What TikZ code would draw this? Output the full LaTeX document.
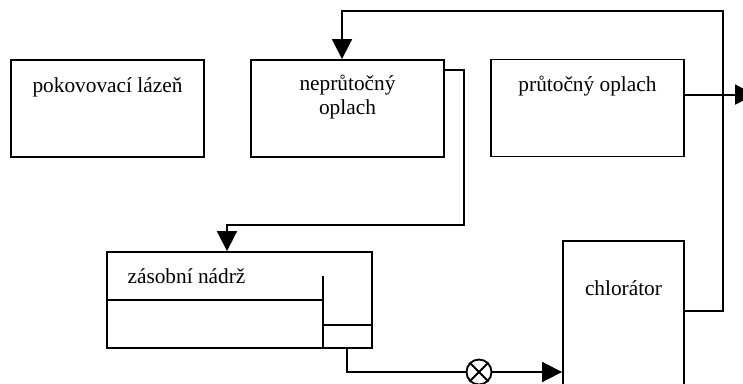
\documentclass[tikz,border=0pt]{standalone}
\usepackage{fontspec}
\setmainfont{Liberation Serif}
\usetikzlibrary{arrows.meta,calc}
\begin{document}
\begin{tikzpicture}[x=0.75pt,y=-0.75pt,line width=1.4pt,
    font=\fontsize{16}{17.5}\selectfont,
    box/.style={draw,minimum width=144.75pt,minimum height=72.75pt},
    flow/.style={-{Triangle[length=15pt,width=15pt]}}]
    \useasboundingbox (0,0) rectangle (743,383);
    \clip (0,0) rectangle (743,383);
    \node[box] (lazen) at (107.5,108.5) {};
    \node[box] (neprut) at (347.5,108.5) {};
    \node[box] (prut) at (587.5,108) {};
    \node[draw,minimum width=198.75pt,minimum height=72pt] (nadrz) at (239.5,300) {};
    \node[draw,minimum width=90.75pt,minimum height=118.5pt] (chlor) at (623.5,320) {};
    \node[draw,circle,inner sep=0pt,minimum size=18.75pt] (ventil) at (479,372) {};
    \draw (ventil.north east) -- (ventil.south west);
    \draw (ventil.north west) -- (ventil.south east);
    \node[anchor=base] (t1) at (107.5,92) {pokovovací lázeň};
    \node[anchor=base,align=center] (t2) at (347.5,114) {neprůtočný\\oplach};
    \node[anchor=base] (t3) at (587.5,91) {průtočný oplach};
    \node[anchor=base] (t4) at (186.5,283) {zásobní nádrž};
    \node[anchor=base] (t5) at (623.5,295) {chlorátor};
    \draw (nadrz.west) -- (323,300);
    \draw (323,276) -- (nadrz.south -| 323,0);
    \draw (323,325) -- (nadrz.east |- 0,325);
    \coordinate (z1) at ($(chlor.north east)+(0,71)$);
    \coordinate (z2) at ($(prut.north east)+(0,36)$);
    \coordinate (z3) at ($(neprut.north east)+(0,11)$);
    \coordinate (ven) at (z2 -| 755,0);
    \draw[flow] (z1) -| (723,11) -| ($(neprut.north)+(-5.5,0)$);
    \draw[flow] (z2) -- (ven);
    \draw[flow] (z3) -| (464,225) -| ($(nadrz.north)+(-12.5,0)$);
    \draw ($(nadrz.south)+(107.5,0)$) |- (ventil.west);
    \draw[flow] (ventil.east) -- (chlor.west |- ventil.east);
\end{tikzpicture}
\end{document}
